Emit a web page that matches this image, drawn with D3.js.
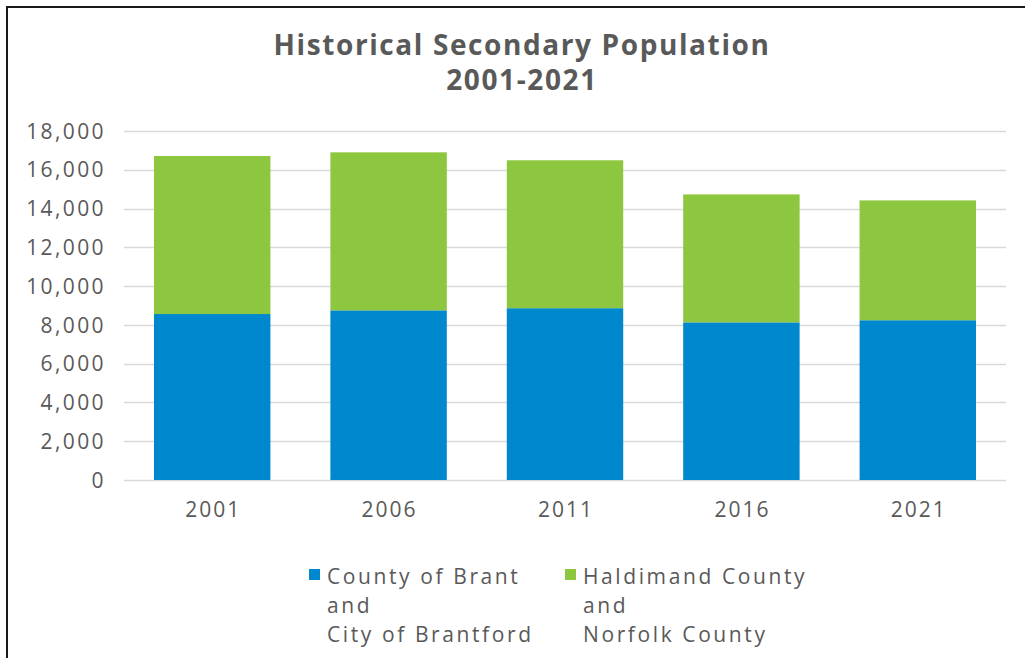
<!DOCTYPE html>
<html>
<head>
<meta charset="utf-8">
<script src="https://cdn.jsdelivr.net/npm/d3@7"></script>
<style>
  html, body { margin: 0; padding: 0; background: #fff; }
  svg { display: block; }
  text { font-family: "Open Sans", "Noto Sans", sans-serif; fill: #595959; }
</style>
</head>
<body>
<svg id="chart" width="1025" height="658"></svg>
<script>
const categories = ["2001", "2006", "2011", "2016", "2021"];
const brantValues = [8560, 8750, 8860, 8130, 8240];
const haldimandValues = [8150, 8150, 7630, 6600, 6180];
const seriesNames = ["County of Brant\nand\nCity of Brantford", "Haldimand County\nand\nNorfolk County"];
const seriesColors = ["#0088CE", "#8DC63F"];
const yTicks = [0, 2000, 4000, 6000, 8000, 10000, 12000, 14000, 16000, 18000];
const titleLines = ["Historical Secondary Population", "2001-2021"];

const svg = d3.select("#chart");
const W = 1025, H = 658;
const margin = { left: 124, right: 1006, top: 131, bottom: 480 };

// border (top and left)
svg.append("line").attr("x1", 6).attr("x2", W).attr("y1", 7).attr("y2", 7)
  .attr("stroke", "#1a1a1a").attr("stroke-width", 2);
svg.append("line").attr("x1", 7).attr("x2", 7).attr("y1", 6).attr("y2", H)
  .attr("stroke", "#1a1a1a").attr("stroke-width", 2);

const x = d3.scaleBand().domain(categories).range([margin.left, margin.right]).paddingInner(0.34).paddingOuter(0.17);
const y = d3.scaleLinear().domain([0, 18000]).range([margin.bottom, margin.top]);

// gridlines
svg.append("g").selectAll("line").data(yTicks).join("line")
  .attr("x1", margin.left).attr("x2", margin.right)
  .attr("y1", d => Math.round(y(d)) + 0.5).attr("y2", d => Math.round(y(d)) + 0.5)
  .attr("stroke", "#d9d9d9").attr("stroke-width", 1.5);

// y axis labels
const yAxis = d3.axisLeft(y).tickValues(yTicks).tickFormat(d3.format(",")).tickSize(0).tickPadding(0);
const gy = svg.append("g").attr("transform", `translate(106,0)`).call(yAxis);
gy.select(".domain").remove();
gy.selectAll("text").style("font-size", "21px").style("letter-spacing", "2.4px")
  .attr("fill", "#595959").attr("dy", "0.34em");

// x axis labels
const xAxis = d3.axisBottom(x).tickSize(0).tickPadding(0);
const gx = svg.append("g").attr("transform", `translate(1,${margin.bottom + 22})`).call(xAxis);
gx.select(".domain").remove();
gx.selectAll("text").style("font-size", "21px").style("letter-spacing", "2px")
  .attr("fill", "#595959").attr("dy", "0.71em");

// stacked data
const rows = categories.map((c, i) => ({ cat: c, brant: brantValues[i], hald: haldimandValues[i] }));
const stack = d3.stack().keys(["brant", "hald"]);
const layers = stack(rows);

svg.append("g").selectAll("g").data(layers).join("g")
  .attr("fill", (d, i) => seriesColors[i])
  .selectAll("rect").data(d => d).join("rect")
  .attr("x", d => x(d.data.cat))
  .attr("width", x.bandwidth())
  .attr("y", d => y(d[1]))
  .attr("height", d => y(d[0]) - y(d[1]));

// title
svg.append("g").selectAll("text").data(titleLines).join("text")
  .attr("x", 522).attr("y", (d, i) => 55 + i * 35)
  .attr("text-anchor", "middle")
  .style("font-size", "28px").style("font-weight", "700").style("letter-spacing", "1.6px")
  .text(d => d);

// legend
const legendX = [309, 565];
const lg = svg.append("g").selectAll("g").data(seriesNames).join("g")
  .attr("transform", (d, i) => `translate(${legendX[i]},569)`);
lg.append("rect").attr("width", 11).attr("height", 11).attr("fill", (d, i) => seriesColors[i]);
lg.selectAll("text").data(d => d.split("\n")).join("text")
  .attr("x", 18).attr("y", (d, i) => 15 + i * 29)
  .style("font-size", "21px").style("letter-spacing", "2.6px")
  .text(d => d);
</script>
</body>
</html>
